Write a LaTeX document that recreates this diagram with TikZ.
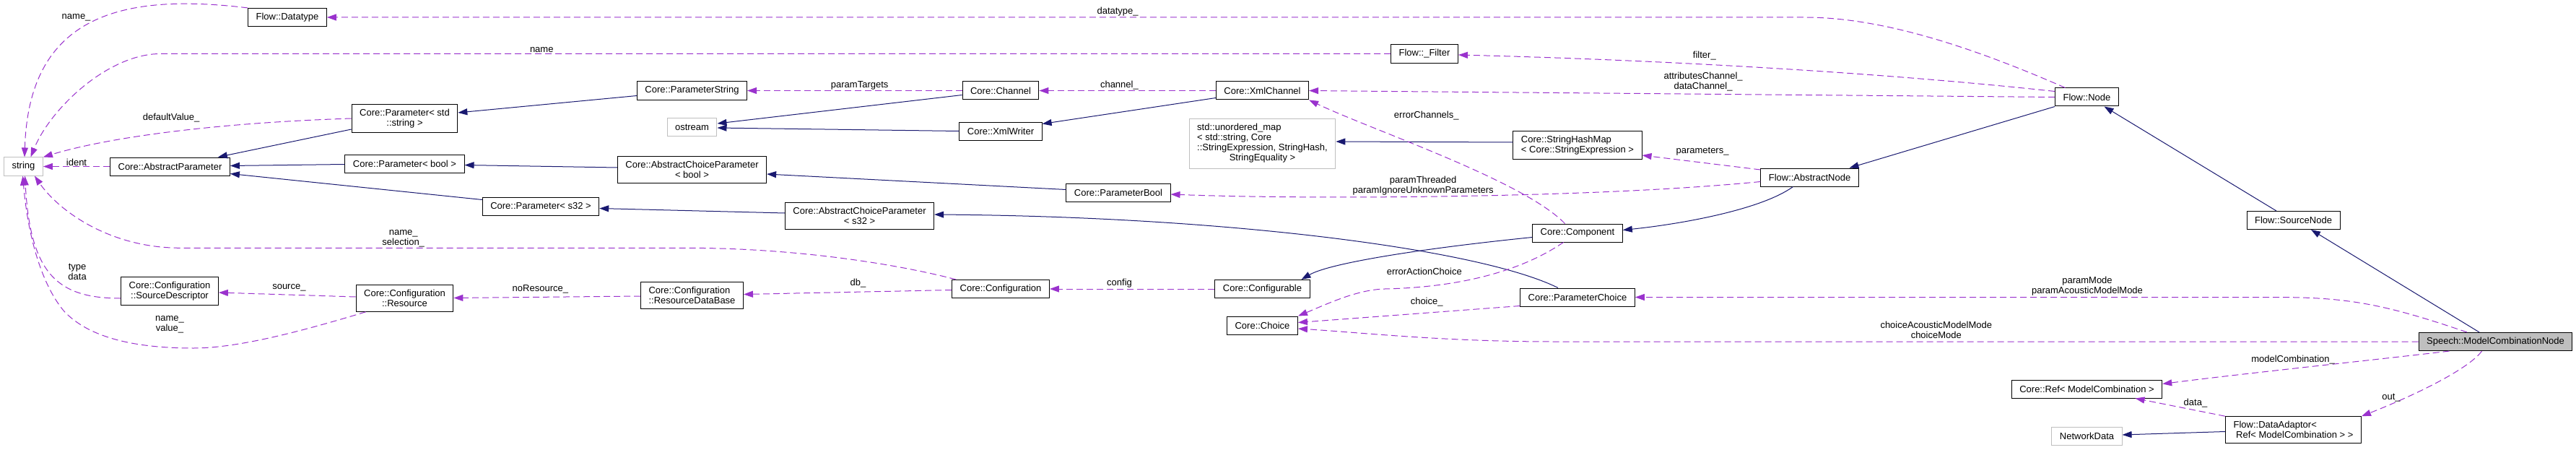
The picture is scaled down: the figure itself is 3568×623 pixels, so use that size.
\documentclass[tikz,border=0pt]{standalone}
\usepackage{fontspec}
\setmainfont{Liberation Sans}
\usetikzlibrary{arrows.meta}
\definecolor{usecol}{RGB}{154,50,205}
\definecolor{inhcol}{RGB}{25,25,112}
\definecolor{boxgray}{RGB}{191,191,191}
\begin{document}
\begin{tikzpicture}[
    x=1pt, y=-1pt,
    font=\fontsize{13}{14}\selectfont,
    box/.style={draw=#1, line width=1pt, fill=white, minimum height=25pt,
                inner xsep=11pt, inner ysep=6.5pt, align=center},
    box/.default=black,
    arr/.style={-{Triangle[length=13pt,width=9pt]}, line width=1pt},
    usage/.style={arr, draw=usecol, dash pattern=on 9pt off 5pt},
    inherit/.style={arr, draw=inhcol},
    lbl/.style={inner sep=1pt, align=center},
]
\useasboundingbox (0,0) rectangle (3568,623);

\node[box=boxgray] (str)      at (32.5,230.5)  {string};
\node[box]         (dtype)    at (398,24)      {Flow::Datatype};
\node[box]         (absparam) at (235.5,230.5) {Core::AbstractParameter};
\node[box]         (sdesc)    at (235,403)     {Core::Configuration\\::SourceDescriptor};
\node[box]         (pstr)     at (560.5,164)   {Core::Parameter< std\\::string >};
\node[box]         (pbool)    at (560.5,226.5) {Core::Parameter< bool >};
\node[box]         (res)      at (560.5,413)   {Core::Configuration\\::Resource};
\node[box]         (ps32)     at (749,285.5)   {Core::Parameter< s32 >};
\node[box]         (parstr)   at (958.5,125.5) {Core::ParameterString};
\node[box=boxgray] (ostr)     at (958.5,176)   {ostream};
\node[box]         (acpbool)  at (958.5,235)   {Core::AbstractChoiceParameter\\< bool >};
\node[box, align=left] (resdb) at (958.5,409)  {Core::Configuration\\::ResourceDataBase};
\node[box]         (acps32)   at (1190.5,299)  {Core::AbstractChoiceParameter\\< s32 >};
\node[box]         (chan)     at (1386,125.5)  {Core::Channel};
\node[box]         (xmlw)     at (1386,181.5)  {Core::XmlWriter};
\node[box]         (conf)     at (1386,400)    {Core::Configuration};
\node[box]         (parbool)  at (1549,266.5)  {Core::ParameterBool};
\node[box]         (xmlch)    at (1748.5,125.5) {Core::XmlChannel};
\node[box=boxgray] (umap)     at (1748.5,198.5) {\begin{tabular}{@{}l@{}}std::unordered\_map\\< std::string, Core\\::StringExpression, StringHash,\\\multicolumn{1}{@{}c@{}}{StringEquality >}\end{tabular}};
\node[box]         (cfgable)  at (1748.5,400)  {Core::Configurable};
\node[box]         (choice)   at (1748.5,450.5) {Core::Choice};
\node[box]         (filt)     at (1973,74.5)   {Flow::\_Filter};
\node[box, align=left] (shm)  at (2185,201)    {Core::StringHashMap\\< Core::StringExpression >};
\node[box]         (comp)     at (2185,322.5)  {Core::Component};
\node[box]         (pchoice)  at (2185,411.5)  {Core::ParameterChoice};
\node[box]         (anode)    at (2506.5,245.5) {Flow::AbstractNode};
\node[box]         (fnode)    at (2890.5,134.5) {Flow::Node};
\node[box]         (ref)      at (2890.5,538.5) {Core::Ref< ModelCombination >};
\node[box=boxgray] (netdata)  at (2890.5,604)  {NetworkData};
\node[box]         (srcnode)  at (3176.5,305)  {Flow::SourceNode};
\node[box, align=left] (adaptor) at (3176.5,595) {Flow::DataAdaptor<\\\ Ref< ModelCombination > >};
\node[box, fill=boxgray] (mcn) at (3456.5,473) {Speech::ModelCombinationNode};

\draw[usage] ([xshift=-30pt]fnode.north) .. controls (2720,60) and (2600,24) .. (2500,24)
    -- node[lbl, pos=0.465, above] (ldtype) {datatype\_} (dtype.east);
\draw[usage] (dtype.north west) .. controls (170,-10) and (40,20) ..
    node[lbl, pos=0.45, left=16pt] (lname) {name\_} ([xshift=1.5pt]str.north);
\draw[usage] (filt.west) -- node[lbl, pos=0.69, above] (lfname) {name} (222,74.5)
    .. controls (150,74.5) and (70,150) .. ([xshift=10pt]str.north);
\draw[usage] (pstr.west) .. controls (300,170) and (150,190) ..
    node[lbl, pos=0.5, above=12pt] (ldefault) {defaultValue\_} (str.north east);
\draw[usage] (absparam.west) -- node[lbl, above, inner sep=0pt] (lident) {ident} (str.east);
\draw[inherit] ([yshift=-15pt]pstr.west) -- ([xshift=-17pt]absparam.north east);
\draw[inherit] ([yshift=-1pt]pbool.west) -- ([yshift=1pt]absparam.east);
\draw[inherit] ([yshift=9pt]ps32.west) -- ([yshift=-10pt]absparam.east);
\draw[inherit] ([yshift=-7pt]parstr.west) -- ([yshift=8pt]pstr.east);
\draw[usage] (chan.west) -- node[lbl, pos=0.477, above] (ltargets) {paramTargets} (parstr.east);
\draw[usage] (xmlch.west) -- node[lbl, pos=0.546, above] (lchannel) {channel\_} (chan.east);
\draw[inherit] ([yshift=-6pt]chan.west) -- ([yshift=5pt]ostr.east);
\draw[inherit] (xmlw.west) -- ([yshift=-1pt]ostr.east);
\draw[inherit] ([yshift=-10pt]xmlch.west) -- ([yshift=10pt]xmlw.east);
\draw[inherit] ([yshift=3pt]acpbool.west) -- ([yshift=-2pt]pbool.east);
\draw[inherit] ([yshift=4pt]parbool.west) -- ([yshift=-6pt]acpbool.east);
\draw[inherit] ([yshift=4pt]acps32.west) -- ([yshift=-3pt]ps32.east);
\draw[inherit] ([xshift=-27pt]pchoice.north) .. controls (2050,345) and (1700,300) .. ([yshift=2pt]acps32.east);
\draw[usage] ([yshift=-6pt]anode.west) .. controls (2200,275) and (1800,276) ..
    node[lbl, pos=0.54, above] (lthreaded) {paramThreaded\\paramIgnoreUnknownParameters} ([yshift=-2.5pt]parbool.east);
\draw[usage] ([yshift=10.5pt]anode.west) -- node[lbl, pos=0.49, above=9pt] (lparams) {parameters\_} ([yshift=-14pt]shm.east);
\draw[inherit] ([yshift=4pt]shm.west) -- ([yshift=2.5pt]umap.east);
\draw[inherit] ([xshift=-23pt]anode.south) .. controls (2440,290) and (2330,310) .. ([yshift=4pt]comp.east);
\draw[usage] ([xshift=-17.5pt]comp.north) .. controls (2110,250) and (1900,180) ..
    node[lbl, pos=0.65, xshift=38pt, yshift=31pt] (lerrch) {errorChannels\_} (xmlch.south east);
\draw[inherit] ([yshift=-6pt]comp.west) .. controls (1960,345) and (1840,365) .. ([xshift=-12pt]cfgable.north east);
\draw[usage] (cfgable.west) -- node[lbl, pos=0.577, above] (lconfig) {config} (conf.east);
\draw[usage] ([yshift=-1.5pt]conf.west) -- node[lbl, pos=0.45, above=5pt] (ldb) {db\_} ([yshift=1.5pt]resdb.east);
\draw[usage] ([xshift=6pt]conf.north west) .. controls (1240,365) and (1100,343.3) .. (950,343.3)
    -- node[lbl, pos=0.559, above] (lselect) {name\_\\selection\_} (250,343.3)
    .. controls (150,343.3) and (80,290) .. ([xshift=-12pt]str.south east);
\draw[usage] ([yshift=-1pt]resdb.west) -- node[lbl, pos=0.536, above=4pt] (lnores) {noResource\_} ([yshift=0.5pt]res.east);
\draw[usage] ([yshift=2pt]res.west) -- node[lbl, pos=0.486, above=4pt] (lsource) {source\_} ([yshift=-2pt]sdesc.east);
\draw[usage] ([yshift=-10pt]sdesc.west) .. controls (80,413) and (42,380) ..
    node[lbl, pos=0.5, right=22pt, yshift=3pt] (ltype) {type\\data} ([xshift=2pt]str.south);
\draw[usage] ([xshift=14pt]res.south west) .. controls (420,458) and (330,482) ..
    node[lbl, pos=1, above=19pt, xshift=-33pt] (lvalue) {name\_\\value\_} (268,482)
    .. controls (180,482) and (120,465) .. (88,430)
    .. controls (55,390) and (38,320) .. ([xshift=-1pt]str.south);
\draw[usage] ([yshift=8pt]fnode.west) .. controls (2600,100) and (2300,83) ..
    node[lbl, pos=0.6, above=5pt] (lfilter) {filter\_} ([yshift=-1.5pt]filt.east);
\draw[usage] (fnode.west) -- node[lbl, pos=0.4715, above=2.5pt] (lattr) {attributesChannel\_\\dataChannel\_} (xmlch.east);
\draw[inherit] (fnode.south west) -- ([xshift=55pt]anode.north);
\draw[inherit] ([xshift=-23.5pt]srcnode.north) -- ([xshift=24pt]fnode.south);
\draw[inherit] ([xshift=-22.5pt]mcn.north) -- ([xshift=24.5pt]srcnode.south);
\draw[usage] ([xshift=-39.5pt]mcn.north) .. controls (3300,420) and (3250,411.5) .. (3150,411.5)
    -- node[lbl, pos=0.2926, above=1pt] (lpmode) {paramMode\\paramAcousticModelMode} (pchoice.east);
\draw[usage] (mcn.west) -- node[lbl, pos=0.5567, above=2.75pt] (lcmode) {choiceAcousticModelMode\\choiceMode} (2150,473)
    .. controls (2000,473) and (1880,460) .. ([yshift=-4.5pt]choice.east);
\draw[usage] ([xshift=-19.5pt]comp.south) .. controls (2100,380) and (2010,398) ..
    node[lbl, pos=0.8, above=15pt] (lerract) {errorActionChoice} (1918,400)
    .. controls (1880,401) and (1840,420) .. (choice.north east);
\draw[usage] ([yshift=-12pt]pchoice.west) -- node[lbl, pos=0.42, above=8pt] (lchoice) {choice\_} ([yshift=4pt]choice.east);
\draw[usage] ([xshift=-64pt]mcn.south) .. controls (3300,497) and (3100,518) ..
    node[lbl, pos=0.55, above=5pt] (lmodel) {modelCombination\_} ([yshift=7pt]ref.east);
\draw[usage] (adaptor.north west) -- node[lbl, pos=0.33, above=2pt] (ldata) {data\_} ([xshift=67pt]ref.south);
\draw[usage] ([xshift=-19pt]mcn.south) .. controls (3420,510) and (3350,545) ..
    node[lbl, pos=0.8, above=0pt, xshift=-5pt] (lout) {out\_} (adaptor.north east);
\draw[inherit] ([yshift=-2.5pt]adaptor.west) -- ([yshift=2pt]netdata.east);
\end{tikzpicture}
\end{document}
